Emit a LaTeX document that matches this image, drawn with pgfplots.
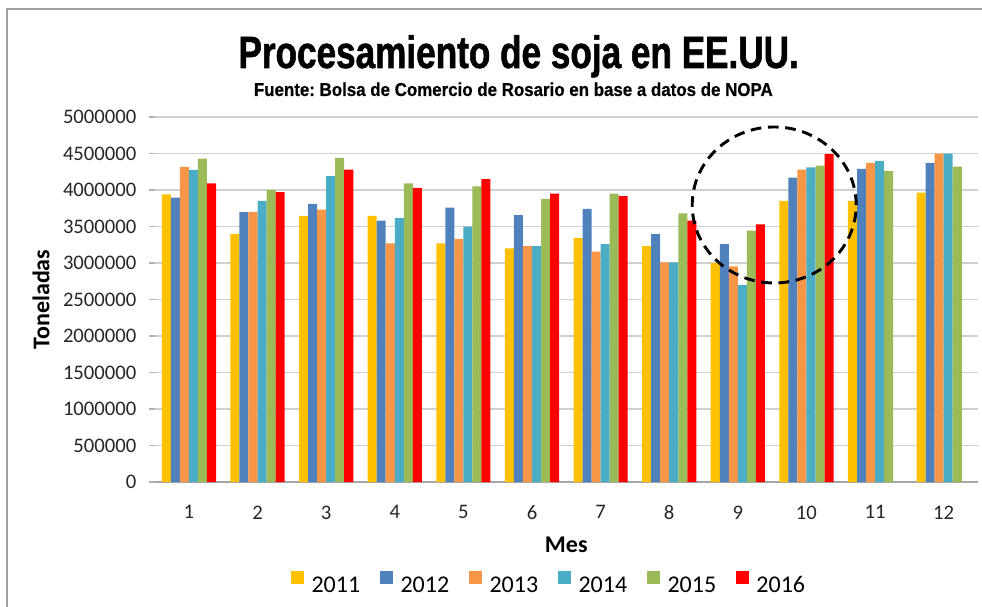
\documentclass[border=0pt]{standalone}
\usepackage{fontspec}
\setmainfont{Carlito}
\newfontfamily\titlefont[FakeStretch=0.775,FakeBold=1.2]{Liberation Sans}
\newfontfamily\subfont[FakeStretch=0.905,FakeBold=0.6]{Liberation Sans}
\usepackage{pgfplots}
\pgfplotsset{compat=1.18}
\definecolor{c11}{HTML}{FFC000}
\definecolor{c12}{HTML}{4F81BD}
\definecolor{c13}{HTML}{F79646}
\definecolor{c14}{HTML}{4BACC6}
\definecolor{c15}{HTML}{9BBB59}
\definecolor{c16}{HTML}{FF0000}
\definecolor{gridc}{HTML}{D0D0D0}
\frenchspacing
\begin{document}
\begin{tikzpicture}
\path[use as bounding box] (0pt,0pt) rectangle (736.5pt,455.25pt);
\draw[color=gray!75, line width=1.5pt] (5.25pt,0pt) -- (5.25pt,448.5pt) -- (736.5pt,448.5pt);
\node[anchor=base, font=\titlefont\bfseries\fontsize{34}{36}\selectfont, inner sep=0pt] at (389pt,404.25pt) {Procesamiento de soja en EE.UU.};
\node[anchor=base, font=\subfont\bfseries\fontsize{14}{16}\selectfont, inner sep=0pt] at (385pt,383.25pt) {Fuente: Bolsa de Comercio de Rosario en base a datos de NOPA};
\begin{axis}[
  at={(115.95pt,93.75pt)}, anchor=south west,
  scale only axis, width=617.55pt, height=273.75pt,
  xmin=0.5, xmax=12.5, ymin=0, ymax=5000000,
  ybar=0pt, bar width=0.1317,
  xtick={1,...,12},
  ytick={0,500000,...,5000000},
  scaled y ticks=false,
  /pgf/number format/fixed,
  /pgf/number format/1000 sep={},
  /pgf/number format/assume math mode=true,
  axis x line*=bottom, axis y line*=left,
  x axis line style={draw=gray!70, line width=1pt},
  y axis line style={draw=none},
  ymajorgrids, grid style={draw=gridc, line width=1pt},
  tick align=outside, major tick length=4.5pt,
  xtick style={draw=none},
  ytick style={draw=gray!60, line width=0.8pt},
  tick label style={font=\fontsize{15.5}{17}\selectfont, text=black!85},
  yticklabel style={inner sep=0pt, anchor=east, xshift=-9pt},
  xticklabel style={inner sep=0pt, anchor=north, yshift=-13pt},
  xlabel={Mes}, ylabel={Toneladas},
  every axis x label/.style={at={(axis description cs:0.5,-0.1726)}, anchor=center, font=\bfseries\fontsize{18}{20}\selectfont},
  every axis y label/.style={at={(axis description cs:-0.138,0.5)}, anchor=center, rotate=90, font=\bfseries\fontsize{18}{20}\selectfont},
  legend style={at={(axis description cs:0.478,-0.277)}, anchor=center, draw=none,
    font=\fontsize{18}{20}\selectfont, legend columns=6,
    nodes={inner sep=0pt},
    /tikz/every odd column/.append style={column sep=5.5pt},
    /tikz/every even column/.append style={column sep=15pt}},
  legend image code/.code={\fill[#1] (0pt,1.2pt) rectangle (9.75pt,10.95pt);},
  clip=false,
]
\addplot[fill=c11, draw=none] coordinates {(1,3940000) (2,3395000) (3,3647000) (4,3647000) (5,3270000) (6,3200000) (7,3344000) (8,3230000) (9,3000000) (10,3850000) (11,3850000) (12,3965000)};
\addplot[fill=c12, draw=none] coordinates {(1,3895000) (2,3698000) (3,3810000) (4,3580000) (5,3760000) (6,3655000) (7,3740000) (8,3395000) (9,3260000) (10,4170000) (11,4290000) (12,4370000)};
\addplot[fill=c13, draw=none] coordinates {(1,4317000) (2,3700000) (3,3730000) (4,3270000) (5,3330000) (6,3230000) (7,3155000) (8,3010000) (9,2955000) (10,4280000) (11,4370000) (12,4500000)};
\addplot[fill=c14, draw=none] coordinates {(1,4275000) (2,3850000) (3,4190000) (4,3615000) (5,3500000) (6,3230000) (7,3260000) (8,3010000) (9,2700000) (10,4310000) (11,4400000) (12,4500000)};
\addplot[fill=c15, draw=none] coordinates {(1,4430000) (2,4000000) (3,4440000) (4,4090000) (5,4050000) (6,3880000) (7,3950000) (8,3680000) (9,3445000) (10,4335000) (11,4260000) (12,4320000)};
\addplot[fill=c16, draw=none] coordinates {(1,4090000) (2,3970000) (3,4280000) (4,4030000) (5,4150000) (6,3950000) (7,3917000) (8,3580000) (9,3530000) (10,4490000)};
\legend{2011,2012,2013,2014,2015,2016}
\draw[black, line width=2.2pt, dash pattern=on 8pt off 5pt] (axis cs:9.53,3795000) ellipse [x radius=61.5pt, y radius=58.5pt];
\end{axis}
\end{tikzpicture}
\end{document}
